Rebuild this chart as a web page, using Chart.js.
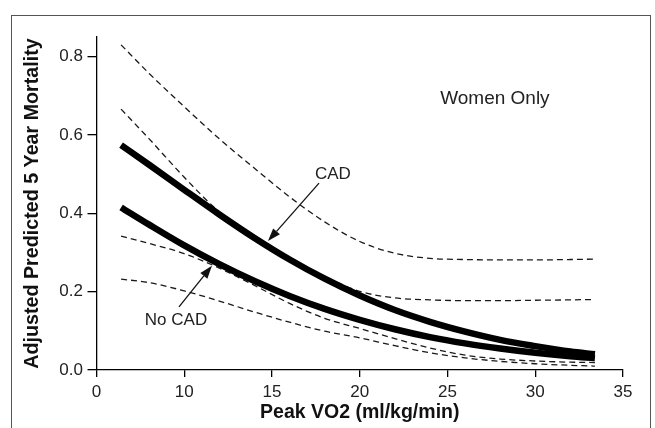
<!DOCTYPE html>
<html>
<head>
<meta charset="utf-8">
<script src="https://cdn.jsdelivr.net/npm/chart.js@4.4.1/dist/chart.umd.min.js"></script>
<style>
  html, body { margin: 0; padding: 0; background: #fff; }
  #wrap { position: relative; width: 655px; height: 428px; overflow: hidden; }
  #frame { position: absolute; left: 11px; top: 15px; width: 640px; height: 440px;
           border: 1px solid #555; box-sizing: border-box; pointer-events: none; }
  canvas { position: absolute; left: 0; top: 0; }
</style>
</head>
<body>
<div id="wrap">
  <canvas id="c" width="655" height="428"></canvas>
  <div id="frame"></div>
</div>
<script>
// ---- data ----
const peakVO2 = [6.4, 8, 10, 12, 14, 16, 18, 20, 22, 24, 26, 28, 30, 32, 33.4];
const cadEstimate   = [0.574, 0.524, 0.460, 0.397, 0.337, 0.282, 0.233, 0.190, 0.153, 0.123, 0.098, 0.077, 0.061, 0.047, 0.040];
const noCadEstimate = [0.415, 0.371, 0.318, 0.270, 0.227, 0.189, 0.156, 0.128, 0.104, 0.084, 0.068, 0.055, 0.044, 0.035, 0.030];
const cadUpper   = [0.830, 0.757, 0.672, 0.590, 0.515, 0.442, 0.378, 0.328, 0.298, 0.285, 0.282, 0.281, 0.281, 0.282, 0.283];
const cadLower   = [0.666, 0.590, 0.492, 0.404, 0.343, 0.288, 0.239, 0.201, 0.184, 0.179, 0.177, 0.177, 0.178, 0.179, 0.180];
const noCadUpper = [0.342, 0.323, 0.297, 0.260, 0.216, 0.170, 0.132, 0.106, 0.080, 0.056, 0.038, 0.028, 0.023, 0.020, 0.019];
const noCadLower = [0.232, 0.223, 0.202, 0.176, 0.148, 0.122, 0.099, 0.082, 0.062, 0.044, 0.031, 0.022, 0.016, 0.012, 0.010];

const xTickValues = [5, 10, 15, 20, 25, 30, 35];
const xTickLabels = ["0", "10", "15", "20", "25", "30", "35"];
const yTickValues = [0, 0.2, 0.4, 0.6, 0.8];
const yTickLabels = ["0.0", "0.2", "0.4", "0.6", "0.8"];

const xTitle = "Peak VO2 (ml/kg/min)";
const yTitle = "Adjusted Predicted 5 Year Mortality";

const notes = [
  { text: "Women Only", x: 27.7, y: 0.679, size: 19 },
  { text: "CAD", x: 18.47, y: 0.488, size: 17 },
  { text: "No CAD", x: 9.53, y: 0.115, size: 17 }
];
const arrows = [
  { from: [17.68, 0.477], to: [14.77, 0.329] },
  { from: [9.70, 0.161], to: [11.58, 0.266] }
];

// ---- build ----
const FONT = '"Liberation Sans", Arial, Helvetica, sans-serif';
const pts = ys => peakVO2.map((x, i) => ({ x: x, y: ys[i] }));

function solid(label, ys) {
  return { label, data: pts(ys), borderColor: '#000', borderWidth: 6.5,
           pointRadius: 0, cubicInterpolationMode: 'monotone', fill: false,
           borderCapStyle: 'butt', borderJoinStyle: 'round' };
}
function dashed(label, ys) {
  return { label, data: pts(ys), borderColor: '#1a1a1a', borderWidth: 1.3,
           borderDash: [6, 4], pointRadius: 0, cubicInterpolationMode: 'monotone', fill: false };
}

const notesPlugin = {
  id: 'notes',
  afterDatasetsDraw(chart) {
    const ctx = chart.ctx, xs = chart.scales.x, ys = chart.scales.y;
    ctx.save();
    ctx.fillStyle = '#222';
    ctx.textAlign = 'center';
    ctx.textBaseline = 'alphabetic';
    notes.forEach(n => {
      ctx.font = n.size + 'px ' + FONT;
      ctx.fillText(n.text, xs.getPixelForValue(n.x), ys.getPixelForValue(n.y));
    });
    ctx.strokeStyle = '#111';
    ctx.fillStyle = '#111';
    ctx.lineWidth = 1.3;
    arrows.forEach(a => {
      const x0 = xs.getPixelForValue(a.from[0]), y0 = ys.getPixelForValue(a.from[1]);
      const x1 = xs.getPixelForValue(a.to[0]), y1 = ys.getPixelForValue(a.to[1]);
      const dx = x1 - x0, dy = y1 - y0, len = Math.hypot(dx, dy);
      const ux = dx / len, uy = dy / len, nx = -uy, ny = ux;
      const L = 13, W = 4.5;
      const bx = x1 - ux * L, by = y1 - uy * L;
      ctx.beginPath(); ctx.moveTo(x0, y0); ctx.lineTo(bx, by); ctx.stroke();
      ctx.beginPath();
      ctx.moveTo(x1, y1);
      ctx.lineTo(bx + nx * W, by + ny * W);
      ctx.lineTo(bx - nx * W, by - ny * W);
      ctx.closePath(); ctx.fill();
    });
    ctx.restore();
  }
};

new Chart(document.getElementById('c'), {
  type: 'line',
  data: {
    datasets: [
      solid('CAD', cadEstimate),
      solid('No CAD', noCadEstimate),
      dashed('CAD upper', cadUpper),
      dashed('CAD lower', cadLower),
      dashed('No CAD upper', noCadUpper),
      dashed('No CAD lower', noCadLower)
    ]
  },
  options: {
    responsive: false,
    animation: false,
    devicePixelRatio: 1,
    layout: { padding: { left: 0, right: 32, top: 37, bottom: 0 } },
    plugins: { legend: { display: false }, tooltip: { enabled: false } },
    scales: {
      x: {
        type: 'linear', min: 5, max: 35,
        afterFit: s => { s.height = 58; },
        afterBuildTicks: s => { s.ticks = xTickValues.map(v => ({ value: v })); },
        ticks: {
          color: '#222', padding: 5, maxRotation: 0,
          font: { family: FONT, size: 17 },
          callback: (v) => { const i = xTickValues.indexOf(v); return i >= 0 ? xTickLabels[i] : ''; }
        },
        grid: { drawOnChartArea: false, drawTicks: true, tickLength: 7, color: '#000', lineWidth: 1.3 },
        border: { display: true, color: '#000', width: 1.3 },
        title: { display: true, text: xTitle, color: '#111',
                 font: { family: FONT, size: 19.5, weight: 'bold' }, padding: { top: 0, bottom: 4 } }
      },
      y: {
        type: 'linear', min: 0, max: 0.85,
        afterFit: s => { s.width = 96.5; },
        afterBuildTicks: s => { s.ticks = yTickValues.map(v => ({ value: v })); },
        ticks: {
          color: '#222', padding: 4.5,
          font: { family: FONT, size: 17 },
          callback: (v) => { const i = yTickValues.findIndex(t => Math.abs(t - v) < 1e-9); return i >= 0 ? yTickLabels[i] : ''; }
        },
        grid: { drawOnChartArea: false, drawTicks: true, tickLength: 9, color: '#000', lineWidth: 1.3 },
        border: { display: true, color: '#000', width: 1.3 },
        title: { display: true, text: yTitle, color: '#111',
                 font: { family: FONT, size: 19.7, weight: 'bold' }, padding: { top: 21, bottom: 0 } }
      }
    }
  },
  plugins: [notesPlugin]
});
</script>
</body>
</html>
